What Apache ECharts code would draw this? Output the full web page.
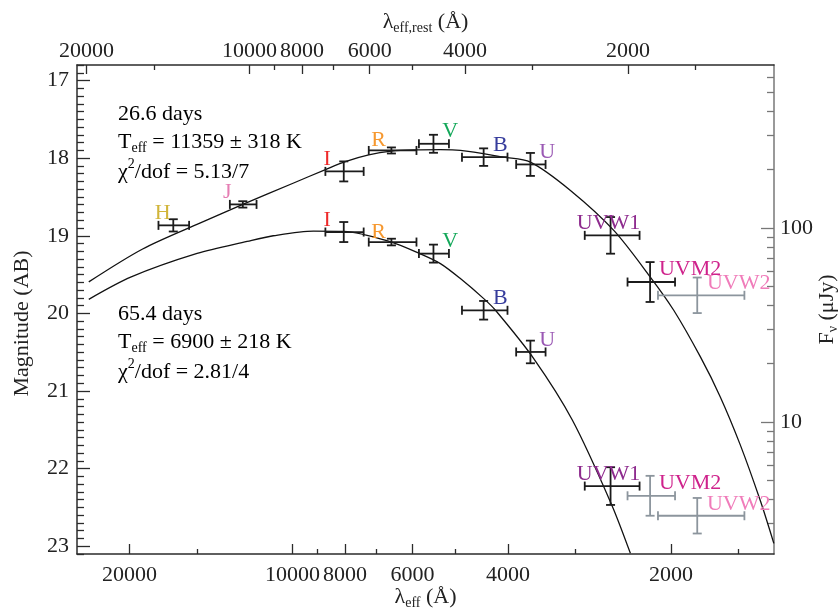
<!DOCTYPE html>
<html><head><meta charset="utf-8">
<script src="https://cdn.jsdelivr.net/npm/echarts@6/dist/echarts.min.js"></script>
<style>html,body{margin:0;padding:0;background:#fff}#c{width:839px;height:613px}</style>
</head><body><div id="c"></div>
<script>
// ---------------- data ----------------
const bands      = ['H', 'J', 'I', 'R', 'V', 'B', 'U', 'UVW1', 'UVM2', 'UVW2'];
const lambdaObs  = [16600, 12350, 8040, 6565, 5490, 4435, 3635, 2585, 2185, 1788];
const lambdaErr  = [1080, 700, 653, 664, 350, 428, 227, 300, 220, 325];

// epoch 1: 26.6 days (all bands)
const mag26    = [18.866, 18.596, 18.171, 17.901, 17.815, 17.987, 18.081, 18.995, 19.596, 19.767];
const magErr26 = [0.079, 0.041, 0.129, 0.039, 0.116, 0.113, 0.148, 0.236, 0.257, 0.229];
const used26   = [1, 1, 1, 1, 1, 1, 1, 1, 1, 0];

// epoch 2: 65.4 days (I ... UVW2)
const bands65   = ['I', 'R', 'V', 'B', 'U', 'UVW1', 'UVM2', 'UVW2'];
const mag65     = [18.952, 19.081, 19.230, 19.960, 20.497, 22.225, 22.350, 22.607];
const magErr65  = [0.129, 0.043, 0.116, 0.120, 0.146, 0.243, 0.257, 0.229];
const used65    = [1, 1, 1, 1, 1, 1, 0, 0];

// blackbody fit curves
const fit26Lambda = [23780, 18910, 14790, 12350, 10000, 8690, 7985, 7229, 6563, 5929, 5330, 4896, 4072, 3635, 3066, 2550, 2183, 1976, 1764, 1621, 1489, 1367, 1291];
const fit26Mag    = [19.594, 19.170, 18.834, 18.596, 18.327, 18.147, 18.044, 17.958, 17.910, 17.894, 17.891, 17.899, 17.987, 18.051, 18.416, 18.931, 19.532, 19.960, 20.561, 21.076, 21.694, 22.415, 22.963];
const fit65Lambda = [23780, 19850, 15000, 12125, 10850, 9147, 8040, 6563, 5803, 5330, 4896, 4433, 4217, 3584, 3040, 2579, 2376];
const fit65Mag    = [19.819, 19.530, 19.228, 19.073, 19.000, 18.939, 18.943, 19.081, 19.234, 19.359, 19.552, 19.810, 19.960, 20.582, 21.376, 22.448, 23.091];

// axes / ticks
const magTicks   = [17, 18, 19, 20, 21, 22, 23];
const fluxMajor  = [10, 100];
const fluxMinor  = [3, 4, 5, 6, 7, 8, 9, 20, 30, 40, 50, 60, 70, 80, 90, 200, 300, 400, 500, 600];
const lamMajor   = [20000, 10000, 8000, 6000, 4000, 2000];
const lamMinor   = [15000, 9000, 7000, 5000, 3000, 1500];
const redshift   = 0.2;
const ZP_uJy     = 23.9;

const texts26 = ['26.6 days', '11359 ± 318 K', '5.13/7'];
const texts65 = ['65.4 days', '6900 ± 218 K', '2.81/4'];

// ---------------- styles ----------------
const FF = '"Liberation Serif","Times New Roman",serif';
const FS = 22;
const bandColor = {H:'#d1b53a', J:'#e57db3', I:'#ee2a2a', R:'#f6982f', V:'#14a85a', B:'#363c9c',
                   U:'#9a58b4', UVW1:'#8e2b8e', UVM2:'#cf238c', UVW2:'#f07cba'};
const labelOff = {H:[-10.6,-11.7], J:[-15.6,-12.3], I:[-16.6,-11.7], R:[-12.7,-10], V:[16.7,-12.5],
                  B:[16.6,-11.7], U:[16.7,-12], UVW1:[-2,-12], UVM2:[40,-12.5], UVW2:[41.5,-11.7]};
const lamMin = 1290, lamMax = 25000;
const magMin = 16.8, magMax = 23.1;

const toMag = f => ZP_uJy - 2.5 * Math.log10(f);
const magMinor = [];
for (let i = 168; i <= 231; i++) { if (i % 10 !== 0) magMinor.push(i / 10); }

function buildErr(bandList, mags, errs, used) {
  return bandList.map((b, i) => {
    const k = bands.indexOf(b);
    return [lambdaObs[k], mags[i], lambdaErr[k], errs[i], used[i], k];
  });
}
const err26 = buildErr(bands, mag26, magErr26, used26);
const err65 = buildErr(bands65, mag65, magErr65, used65);

function renderErr(params, api) {
  const lam = api.value(0), mag = api.value(1), dl = api.value(2), dm = api.value(3);
  const used = api.value(4), k = api.value(5);
  const c = api.coord([lam, mag]);
  const x1 = api.coord([lam + dl, mag])[0], x2 = api.coord([lam - dl, mag])[0];
  const y1 = api.coord([lam, mag - dm])[1], y2 = api.coord([lam, mag + dm])[1];
  const col = used ? '#1b1b1b' : '#8c959d';
  const st = {stroke: col, lineWidth: 1.8};
  const cap = 4.5;
  const L = (a, b, cc, d) => ({type: 'line', shape: {x1: a, y1: b, x2: cc, y2: d}, style: st});
  const name = bands[k];
  const off = labelOff[name];
  return {type: 'group', children: [
    L(x1, c[1], x2, c[1]), L(c[0], y1, c[0], y2),
    L(x1, c[1] - cap, x1, c[1] + cap), L(x2, c[1] - cap, x2, c[1] + cap),
    L(c[0] - cap, y1, c[0] + cap, y1), L(c[0] - cap, y2, c[0] + cap, y2),
    {type: 'text', x: c[0] + off[0], y: c[1] + off[1],
     style: {text: name, fill: bandColor[name], fontSize: FS, fontFamily: FF, align: 'center', verticalAlign: 'middle'}}
  ]};
}

const axCol = '#2b2b2b';
const baseX = (pos, min, max, ticks, len, labels) => ({
  type: 'log', position: pos, inverse: true, min: min, max: max,
  axisLine: {show: labels, onZero: false, lineStyle: {color: axCol, width: 1.5}},
  axisTick: {show: true, inside: true, length: len, customValues: ticks, lineStyle: {color: axCol, width: 1.3}},
  axisLabel: labels ? {show: true, customValues: ticks, fontSize: FS, fontFamily: FF, color: '#222',
               margin: pos === 'top' ? 3 : 10, formatter: v => String(Math.round(v)), hideOverlap: false}
             : {show: false},
  splitLine: {show: false}, minorTick: {show: false}
});

const rich = {
  l: {fontSize: FS, fontFamily: FF, color: '#222'},
  s: {fontSize: 14, fontFamily: FF, color: '#222', padding: [12, 0, 0, 0]}
};

const xAxes = [
  Object.assign(baseX('bottom', lamMin, lamMax, lamMajor, 10, true), {
    name: '{l|λ}{s|eff}{l| (Å)}', nameLocation: 'middle', nameGap: 30, nameMoveOverlap: false,
    nameTextStyle: {rich: rich}}),
  baseX('bottom', lamMin, lamMax, lamMinor, 5, false),
  Object.assign(baseX('top', lamMin / (1 + redshift), lamMax / (1 + redshift), lamMajor, 9, true), {
    name: '{l|λ}{s|eff,rest}{l| (Å)}', nameLocation: 'middle', nameGap: 30, nameMoveOverlap: false,
    nameTextStyle: {rich: rich}}),
  baseX('top', lamMin / (1 + redshift), lamMax / (1 + redshift), lamMinor, 5, false)
];

const yAxes = [
  {type: 'value', position: 'left', inverse: true, min: magMin, max: magMax,
   axisLine: {show: true, onZero: false, lineStyle: {color: axCol, width: 1.5}},
   axisTick: {show: true, inside: true, length: 13, customValues: magTicks, lineStyle: {color: axCol, width: 1.3}},
   axisLabel: {show: true, customValues: magTicks, fontSize: FS, fontFamily: FF, color: '#222', margin: 8},
   splitLine: {show: false},
   name: 'Magnitude (AB)', nameLocation: 'middle', nameRotate: 90, nameGap: 44, nameMoveOverlap: false,
   nameTextStyle: {fontSize: FS, fontFamily: FF, color: '#222', padding: [0, 28, 0, 0]}},
  {type: 'value', position: 'left', inverse: true, min: magMin, max: magMax,
   axisLine: {show: false},
   axisTick: {show: true, inside: true, length: 7, customValues: magMinor, lineStyle: {color: axCol, width: 1.3}},
   axisLabel: {show: false}, splitLine: {show: false}},
  {type: 'value', position: 'right', inverse: true, min: magMin, max: magMax,
   axisLine: {show: true, onZero: false, lineStyle: {color: '#777', width: 1.5}},
   axisTick: {show: true, inside: true, length: 13, customValues: fluxMajor.map(toMag), lineStyle: {color: '#777', width: 1.3}},
   axisLabel: {show: true, customValues: fluxMajor.map(toMag), fontSize: FS, fontFamily: FF, color: '#222', margin: 6,
               formatter: v => String(Math.round(Math.pow(10, (ZP_uJy - v) / 2.5)))},
   splitLine: {show: false},
   name: '{l|F}{s|ν}{l| (μJy)}', nameLocation: 'middle', nameRotate: 90, nameGap: 40, nameMoveOverlap: false,
   nameTextStyle: {rich: rich}},
  {type: 'value', position: 'right', inverse: true, min: magMin, max: magMax,
   axisLine: {show: false},
   axisTick: {show: true, inside: true, length: 7, customValues: fluxMinor.map(toMag), lineStyle: {color: '#777', width: 1.3}},
   axisLabel: {show: false}, splitLine: {show: false}}
];

const annRich = {
  m: {fontSize: FS, fontFamily: FF, color: '#222'},
  sub: {fontSize: 14, fontFamily: FF, color: '#222', padding: [12, 0, 0, 0]},
  sup: {fontSize: 14, fontFamily: FF, color: '#222', padding: [0, 0, 16, 0]}
};
function annBlock(t, yTop) {
  return [
    {type: 'text', left: 118, top: yTop, style: {text: '{m|' + t[0] + '}', rich: annRich}},
    {type: 'text', left: 118, top: yTop + 28, style: {text: '{m|T}{sub|eff}{m| = ' + t[1] + '}', rich: annRich}},
    {type: 'text', left: 118, top: yTop + 54, style: {text: '{m|χ}{sup|2}{m|/dof = ' + t[2] + '}', rich: annRich}}
  ];
}

const chart = echarts.init(document.getElementById('c'), null, {renderer: 'canvas'});
chart.setOption({
  backgroundColor: '#fff',
  animation: false,
  grid: {left: 77, right: 65, top: 65, bottom: 59, containLabel: false, outerBoundsMode: 'none'},
  xAxis: xAxes,
  yAxis: yAxes,
  graphic: annBlock(texts26, 103).concat(annBlock(texts65, 303)),
  series: [
    {type: 'line', xAxisIndex: 0, yAxisIndex: 0, showSymbol: false, smooth: 0.3,
     lineStyle: {color: '#111', width: 1.3}, data: fit26Lambda.map((l, i) => [l, fit26Mag[i]])},
    {type: 'line', xAxisIndex: 0, yAxisIndex: 0, showSymbol: false, smooth: 0.3,
     lineStyle: {color: '#111', width: 1.3}, data: fit65Lambda.map((l, i) => [l, fit65Mag[i]])},
    {type: 'custom', xAxisIndex: 0, yAxisIndex: 0, renderItem: renderErr, data: err26, z: 5},
    {type: 'custom', xAxisIndex: 0, yAxisIndex: 0, renderItem: renderErr, data: err65, z: 5}
  ]
});
</script></body></html>
